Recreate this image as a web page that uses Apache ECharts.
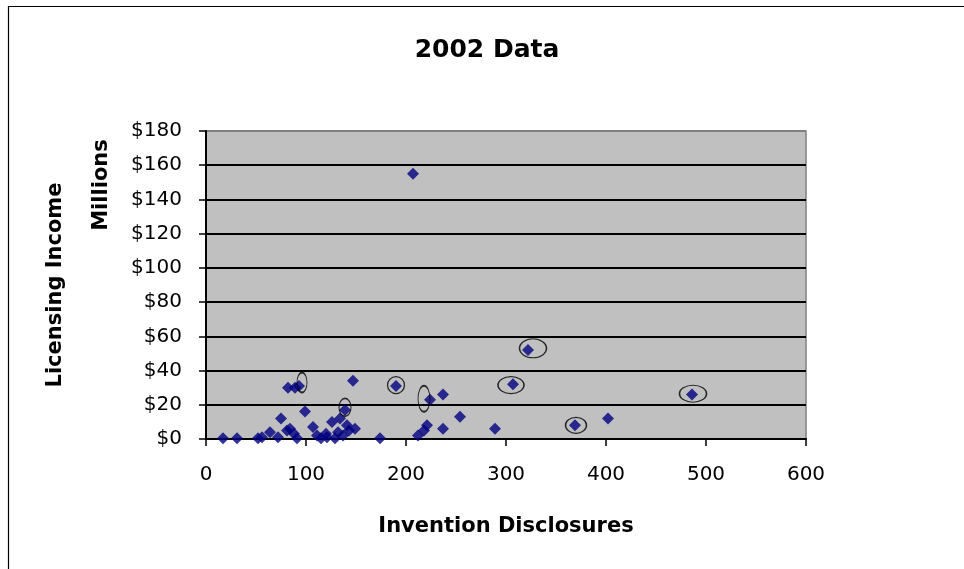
<!DOCTYPE html>
<html>
<head>
<meta charset="utf-8">
<script src="https://cdn.jsdelivr.net/npm/echarts@6/dist/echarts.min.js"></script>
<style>
  html, body { margin: 0; padding: 0; background: #ffffff; }
  #chart { width: 964px; height: 569px; }
</style>
</head>
<body>
<div id="chart"></div>
<script>
// Invention disclosures vs. licensing income ($ millions), one point per institution
const disclosures = [17, 31, 52, 56, 64, 72, 75, 81, 82, 84, 88, 89, 91, 93, 99, 107, 111, 115, 120, 121,
  126, 129, 132, 134, 137, 139, 141, 143, 147, 149, 174, 190, 207, 212, 218, 221, 224, 237, 237, 254,
  289, 307, 322, 369, 402, 486];
const income = [0.5, 0.5, 0.5, 1, 4, 1, 12, 5, 30, 6, 3, 30, 0.5, 31, 16, 7, 2, 0.5, 3, 1,
  10, 0.5, 4, 12, 2, 17, 8, 5, 34, 6, 0.5, 31, 155, 2, 5, 8, 23, 26, 6, 13,
  6, 32, 52, 8, 12, 26];

// Institutions called out with a ring
const circledDisclosures = [96, 139, 190, 218, 305, 327, 370, 487];
const circledIncome = [33, 18.5, 31.5, 23.5, 31.5, 53, 8, 26.5];

const xTicks = [0, 100, 200, 300, 400, 500, 600];
const yTicks = [0, 20, 40, 60, 80, 100, 120, 140, 160, 180];

const FONT = '"DejaVu Sans", "Liberation Sans", Arial, sans-serif';

// ring outline sizes [width, height] in px, in the same order as the circled points
const ringSizes = [[10, 20], [12, 18], [17, 17], [12, 26], [26, 17], [27, 19], [21, 16], [27, 17]];

const points = disclosures.map((d, i) => [d, income[i]]);
const rings = circledDisclosures.map((d, i) => ({
  value: [d, circledIncome[i]],
  symbolSize: ringSizes[i]
}));

// split lines: black inside the plot, the top edge stays grey like the frame
const splitColors = yTicks.map((v, i) => (i === yTicks.length - 1 ? '#808080' : '#000000'));

const chart = echarts.init(document.getElementById('chart'), null, { renderer: 'canvas' });

chart.setOption({
  animation: false,
  backgroundColor: '#ffffff',
  textStyle: { fontFamily: FONT },
  graphic: [
    {
      type: 'rect',
      shape: { x: 8.5, y: 6.5, width: 1000, height: 1000 },
      style: { fill: 'none', stroke: '#000000', lineWidth: 1.2 },
      silent: true
    },
    {
      type: 'text',
      x: 487, y: 50,
      style: {
        text: '2002 Data', fontFamily: FONT, fontWeight: 'bold', fontSize: 25,
        fill: '#000000', align: 'center', verticalAlign: 'middle'
      }
    },
    {
      type: 'text',
      x: 102, y: 185,
      rotation: Math.PI / 2,
      style: {
        text: 'Millions', fontFamily: FONT, fontWeight: 'bold', fontSize: 21,
        fill: '#000000', align: 'center', verticalAlign: 'middle'
      }
    }
  ],
  grid: {
    left: 206, top: 131, width: 600, height: 308,
    show: true, backgroundColor: '#c0c0c0',
    borderColor: '#808080', borderWidth: 1.5
  },
  xAxis: {
    type: 'value',
    min: xTicks[0], max: xTicks[xTicks.length - 1], interval: xTicks[1] - xTicks[0],
    name: 'Invention Disclosures',
    nameLocation: 'middle', nameGap: 77,
    nameTextStyle: { fontFamily: FONT, fontWeight: 'bold', fontSize: 21, color: '#000000' },
    axisLine: { show: true, onZero: false, lineStyle: { color: '#000000', width: 2 } },
    axisTick: { show: true, inside: false, length: 7, lineStyle: { color: '#000000', width: 1.5 } },
    axisLabel: { fontFamily: FONT, fontSize: 20, color: '#000000', margin: 26 },
    splitLine: { show: false }
  },
  yAxis: {
    type: 'value',
    min: yTicks[0], max: yTicks[yTicks.length - 1], interval: yTicks[1] - yTicks[0],
    name: 'Licensing Income',
    nameLocation: 'middle', nameGap: 140, nameRotate: 90,
    nameTextStyle: { fontFamily: FONT, fontWeight: 'bold', fontSize: 21, color: '#000000' },
    axisLine: { show: true, onZero: false, lineStyle: { color: '#000000', width: 2 } },
    axisTick: { show: true, inside: false, length: 7, lineStyle: { color: '#000000', width: 1.5 } },
    axisLabel: {
      fontFamily: FONT, fontSize: 20, color: '#000000', margin: 24,
      formatter: v => '$' + v
    },
    splitLine: { show: true, lineStyle: { color: splitColors, width: 2 } }
  },
  series: [
    {
      type: 'scatter',
      data: points,
      symbol: 'diamond',
      symbolSize: 12,
      itemStyle: { color: '#000080' },
      z: 3
    },
    {
      type: 'scatter',
      data: rings,
      symbol: 'circle',
      itemStyle: { color: 'rgba(0,0,0,0)', borderColor: '#000000', borderWidth: 1.3 },
      silent: true,
      z: 4
    }
  ]
});
</script>
</body>
</html>
